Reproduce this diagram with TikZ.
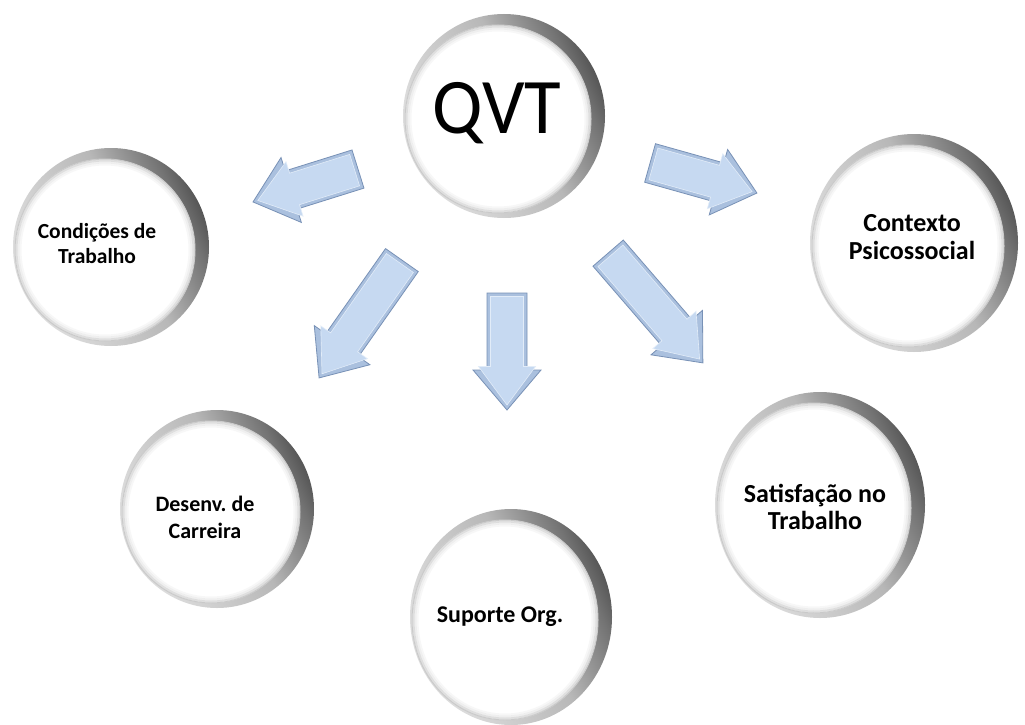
\documentclass[tikz,border=0pt]{standalone}
\usepackage{fontspec}
\usepackage{graphicx}
\setmainfont{Carlito}
\frenchspacing
\usetikzlibrary{shapes.geometric}
\definecolor{arrfill}{RGB}{198,217,241}
\definecolor{arrbevel}{RGB}{170,192,222}
\definecolor{arredge}{RGB}{120,145,182}
\pgfdeclarehorizontalshading{ringshade}{100bp}{rgb(0bp)=(0.93,0.93,0.93); rgb(30bp)=(0.86,0.86,0.86); rgb(55bp)=(0.72,0.72,0.72); rgb(70bp)=(0.45,0.45,0.45); rgb(80bp)=(0.22,0.22,0.22); rgb(100bp)=(0.3,0.3,0.3)}
\newcommand{\blkarrow}[4]{%
  \begin{scope}[shift={(#1,#2)}, rotate=#3]
    \pgfmathsetmacro\halfL{#4/2}
    \filldraw[draw=arredge, fill=arrbevel, line width=0.8pt]
      (-\halfL,-20) -- (\halfL-40,-20) -- (\halfL-40,-34) -- (\halfL,0) -- (\halfL-40,34) -- (\halfL-40,20) -- (-\halfL,20) -- cycle;
    \filldraw[draw=white!50!arrfill, fill=arrfill, line width=0.6pt]
      (-\halfL+3.5,-16.5) -- (\halfL-43.5,-16.5) -- (\halfL-43.5,-28.5) -- (\halfL-5,0) -- (\halfL-43.5,28.5) -- (\halfL-43.5,16.5) -- (-\halfL+3.5,16.5) -- cycle;
  \end{scope}}
\newcommand{\lbltext}[3]{\fontsize{#1}{#2}\selectfont\bfseries\begin{tabular}{@{}c@{}}#3\end{tabular}}
\begin{document}
\begin{tikzpicture}[x=1pt,y=-1pt,
  disc/.style={ellipse, fill=white, draw=gray!40, line width=1pt, inner sep=0pt},
  lbl/.style={align=center, inner sep=0pt}]
\fill[white] (0,0) rectangle (1025,725);
\useasboundingbox (0,0) rectangle (1025,725);
% ring backs (outer bevel)
\foreach \cx/\cy/\rx/\ry in {498/119/93/94, 105/250/90/91, 908/246/96/101, 211/512/89/91, 814/508/97/105, 505/620/93/100}{
  \shade[shading=ringshade, shading angle=25] (\cx+6,\cy-3) ellipse ({\rx+8} and {\ry+8});
}
% discs
\node[disc, minimum width=186pt, minimum height=188pt] (qvt) at (498,119) {};
\node[disc, minimum width=180pt, minimum height=182pt] (cond) at (105,250) {};
\node[disc, minimum width=192pt, minimum height=202pt] (ctx) at (908,246) {};
\node[disc, minimum width=178pt, minimum height=182pt] (des) at (211,512) {};
\node[disc, minimum width=194pt, minimum height=210pt] (sat) at (814,508) {};
\node[disc, minimum width=186pt, minimum height=200pt] (sup) at (505,620) {};
% inner soft edge
\foreach \cx/\cy/\rx/\ry in {498/119/93/94, 105/250/90/91, 908/246/96/101, 211/512/89/91, 814/508/97/105, 505/620/93/100}{
  \draw[gray, opacity=0.25, line width=2pt] (\cx,\cy) ellipse ({\rx-1.5} and {\ry-1.5});
  \draw[gray, opacity=0.12, line width=2pt] (\cx,\cy) ellipse ({\rx-3.5} and {\ry-3.5});
  \draw[gray, opacity=0.06, line width=2pt] (\cx,\cy) ellipse ({\rx-5.5} and {\ry-5.5});
}
% labels
\node[lbl] (tqvt) at (497,113) {\scalebox{1}[1.05]{\fontsize{75}{80}\selectfont QVT}};
\node[lbl] (tcond) at (97,246) {\lbltext{21.5}{25}{Condições de\\Trabalho}};
\node[lbl] (tctx) at (912,240) {\lbltext{26}{28}{Contexto\\Psicossocial}};
\node[lbl] (tdes) at (205,520) {\lbltext{22}{27}{Desenv. de\\Carreira}};
\node[lbl] (tsat) at (815,511) {\lbltext{26}{27}{Satisfação no\\Trabalho}};
\node[lbl] (tsup) at (500,617) {\lbltext{24}{26}{Suporte Org.}};
% block arrows
\blkarrow{305.5}{185.5}{197.4}{110}
\blkarrow{703.5}{178}{-15.7}{111}
\blkarrow{360.5}{319}{-125.1}{144}
\blkarrow{507}{351.5}{-90}{117}
\blkarrow{655.5}{308}{-49.2}{145}
\end{tikzpicture}
\end{document}
